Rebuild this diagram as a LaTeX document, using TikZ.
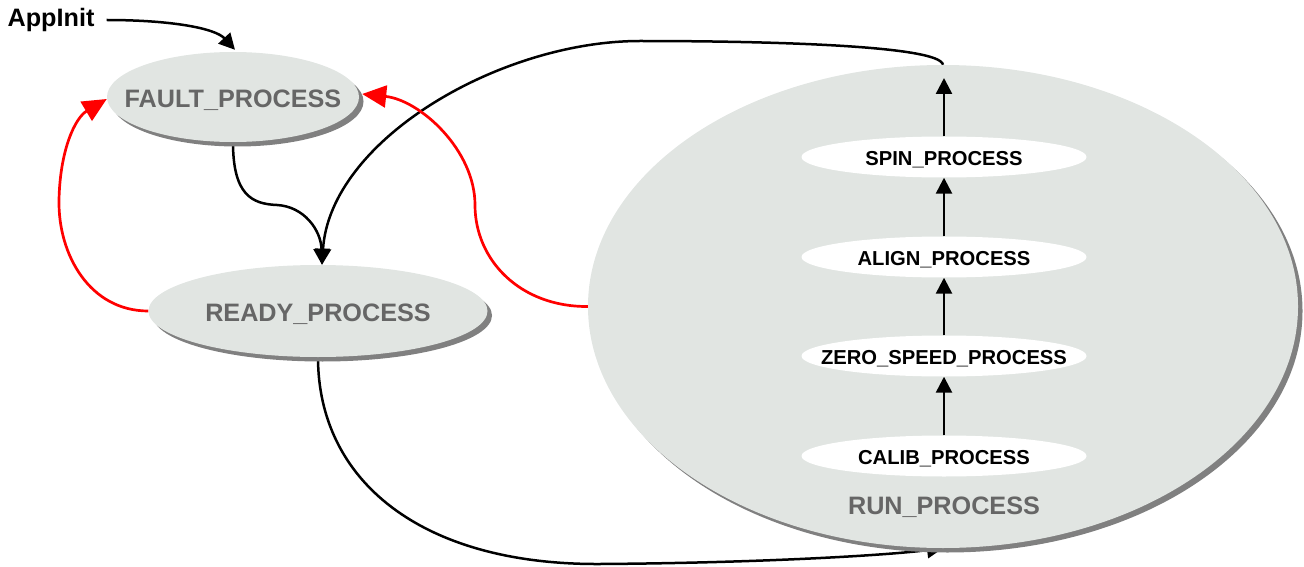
\documentclass[tikz,border=0pt]{standalone}
\usepackage{fontspec}
\setmainfont{Liberation Sans}
\usetikzlibrary{shapes.geometric,shadows,arrows.meta}
\definecolor{statefill}{HTML}{E1E5E2}
\definecolor{statetext}{HTML}{666666}
\definecolor{shadowgray}{HTML}{808080}
\definecolor{faultred}{HTML}{FF0000}
\pgfdeclarelayer{background}
\pgfsetlayers{background,main}
\tikzset{
  state/.style={ellipse, fill=statefill, inner sep=0pt,
    general shadow={fill=shadowgray, shadow xshift=4.5pt, shadow yshift=-4.5pt}},
  statename/.style={text=statetext, inner sep=0pt, yshift=-3pt,
    font=\fontsize{25.2}{29}\selectfont\bfseries},
  substate/.style={ellipse, fill=white, inner sep=0pt, minimum width=285pt,
    minimum height=41pt},
  subname/.style={text=black, inner sep=0pt, yshift=-2.5pt,
    font=\fontsize{20.2}{24}\selectfont\bfseries},
  flow/.style={line width=2.5pt, black, -{Triangle[length=16pt,width=16pt]}},
  faultflow/.style={line width=2.7pt, faultred, -{Triangle[length=24pt,width=22pt]}},
}
\begin{document}
\begin{tikzpicture}[x=1pt, y=-1pt]
\useasboundingbox (0,0) rectangle (1304,567);

% states (names set as centred labels so the ellipse keeps its own size)
\node[state, minimum width=252pt, minimum height=90pt,
  label={[statename]center:FAULT\_PROCESS}] (fault) at (233,97) {};
\node[state, minimum width=339pt, minimum height=92pt,
  label={[statename]center:READY\_PROCESS}] (ready) at (318,311) {};
\node[state, minimum width=710pt, minimum height=483pt] (run) at (943,306.5) {};
\node[statename] (runlabel) at (944,504) {RUN\_PROCESS};

% sub-states inside RUN_PROCESS
\node[substate, label={[subname]center:SPIN\_PROCESS}]       (spin)  at (944,157) {};
\node[substate, label={[subname]center:ALIGN\_PROCESS}]      (align) at (944,257) {};
\node[substate, label={[subname]center:ZERO\_SPEED\_PROCESS}] (zero)  at (944,356) {};
\node[substate, label={[subname]center:CALIB\_PROCESS}]      (calib) at (944,456) {};
\coordinate (spinexit) at (944,78);

\node[inner sep=0pt, font=\fontsize{25.2}{29}\selectfont\bfseries] (appinit) at (51,20) {AppInit};

% sub-state transitions
\draw[flow] (calib.north) -- (zero.south);
\draw[flow] (zero.north) -- (align.south);
\draw[flow] (align.north) -- (spin.south);
\draw[flow] (spin.north) -- (spinexit);

\begin{pgfonlayer}{background}
% entry
\draw[flow] ([xshift=12pt]appinit.east) .. controls (170,20) and (215,28) .. ([shift={(2,-2)}]fault.north);
% fault -> ready
\draw[flow] (fault.south) .. controls (233,195) and (252,204) .. (277,205)
  .. controls (304,206.5) and (321,230) .. ([xshift=4pt]ready.north);
% run -> ready
\draw[flow] (run.north) .. controls (940,45) and (760,41) .. (640,41)
  .. controls (500,41) and (330,140) .. ([xshift=4pt]ready.north);
% ready -> run
\draw[flow] (ready.south) .. controls (318,480) and (420,565) .. (600,564)
  .. controls (750,563) and (880,556) .. (run.south);
% error transitions
\draw[faultflow] (ready.west) .. controls (90,311) and (58,255) .. (59,200)
  .. controls (60,150) and (75,118) .. ([shift={(0,2)}]fault.west);
\draw[faultflow] (run.west) .. controls (520,307) and (475,260) .. (475,205)
  .. controls (475,150) and (420,100) .. ([shift={(3,-3)}]fault.east);
\end{pgfonlayer}
\end{tikzpicture}
\end{document}
